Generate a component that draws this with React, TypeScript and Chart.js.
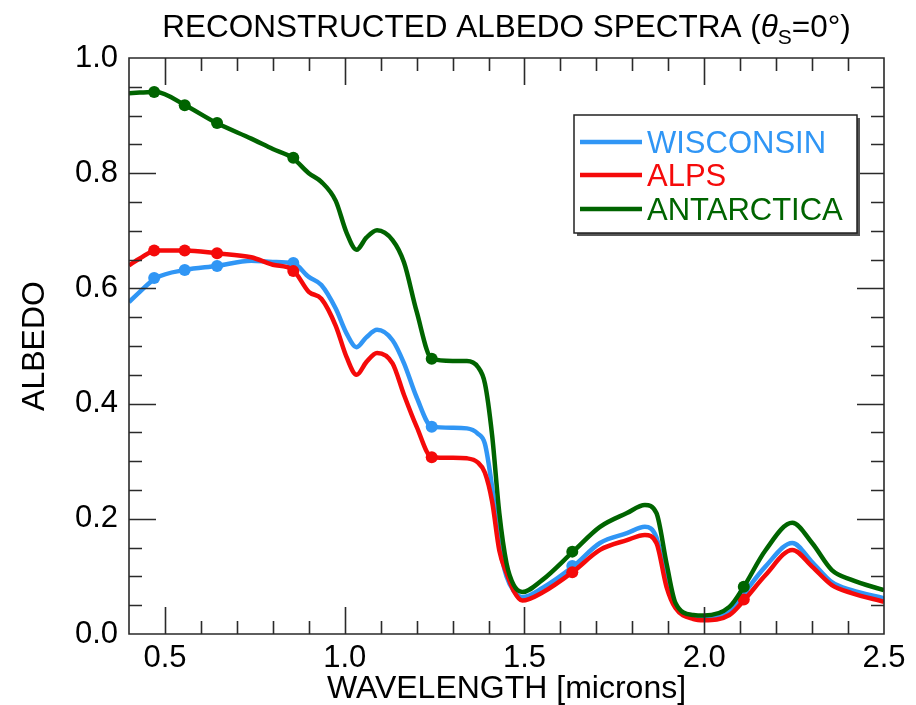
import React, { useEffect, useRef } from "react";
import { Chart, registerables } from "chart.js";

Chart.register(...registerables);

// Wavelength grid (microns) shared by the three reconstructed spectra
const wavelength = [
  0.4, 0.43, 0.475, 0.556, 0.644, 0.74, 0.8, 0.856, 0.9, 0.935, 0.975, 1.005,
  1.033, 1.06, 1.09, 1.133, 1.165, 1.2, 1.242, 1.3, 1.34, 1.37, 1.39, 1.41,
  1.43, 1.45, 1.47, 1.494, 1.55, 1.635, 1.71, 1.785, 1.835, 1.867, 1.895, 1.92,
  1.97, 2.0, 2.07, 2.11, 2.17, 2.245, 2.3, 2.355, 2.41, 2.5,
];

const wisconsin = [
  0.576, 0.594, 0.618, 0.632, 0.639, 0.648, 0.646, 0.644, 0.62, 0.606, 0.565, 0.522,
  0.498, 0.515, 0.528, 0.51, 0.47, 0.411, 0.36, 0.358, 0.357, 0.348, 0.33, 0.255,
  0.155, 0.1, 0.075, 0.064, 0.08, 0.117, 0.158, 0.175, 0.186, 0.168, 0.094, 0.05,
  0.03, 0.029, 0.038, 0.07, 0.117, 0.158, 0.125, 0.09, 0.076, 0.062,
];

const alps = [
  0.64, 0.652, 0.666, 0.666, 0.661, 0.654, 0.641, 0.632, 0.594, 0.582, 0.535, 0.481,
  0.45, 0.472, 0.488, 0.47, 0.415, 0.36, 0.307, 0.306, 0.305, 0.298, 0.28, 0.23,
  0.145, 0.106, 0.075, 0.058, 0.072, 0.108, 0.146, 0.163, 0.172, 0.158, 0.082, 0.045,
  0.026, 0.024, 0.033, 0.058, 0.102, 0.146, 0.117, 0.085, 0.071, 0.056,
];

const antarctica = [
  0.939, 0.94, 0.941, 0.918, 0.887, 0.86, 0.842, 0.826, 0.8, 0.785, 0.752, 0.697,
  0.667, 0.688, 0.701, 0.684, 0.645, 0.56, 0.478, 0.474, 0.474, 0.464, 0.435, 0.345,
  0.21, 0.123, 0.085, 0.073, 0.094, 0.143, 0.186, 0.21, 0.224, 0.21, 0.123, 0.054,
  0.033, 0.032, 0.047, 0.082, 0.145, 0.193, 0.158, 0.111, 0.094, 0.076,
];

// Band centres (markers)
const bandCenters = [0.47, 0.555, 0.645, 0.857, 1.242, 1.633, 2.11];
const wisconsinBands = [0.618, 0.632, 0.639, 0.644, 0.36, 0.118, 0.07];
const alpsBands = [0.666, 0.666, 0.661, 0.63, 0.307, 0.107, 0.06];
const antarcticaBands = [0.941, 0.918, 0.887, 0.827, 0.478, 0.143, 0.082];

const seriesNames = ["WISCONSIN", "ALPS", "ANTARCTICA"];
const seriesColors = ["rgb(48,150,245)", "rgb(245,10,10)", "rgb(0,100,0)"];

const xTickValues = [0.5, 1.0, 1.5, 2.0, 2.5];
const yTickValues = [0, 0.2, 0.4, 0.6, 0.8, 1.0];
const xRange = [0.4, 2.5];
const yRange = [0, 1];
const xMinorStep = 0.1;
const yMinorStep = 0.05;

const FONT = "'Liberation Sans', Arial, Helvetica, sans-serif";

const framePlugin = {
  id: "frameTicks",
  afterDatasetsDraw(chart: any) {
    const { ctx, chartArea, scales } = chart;
    const { left, right, top, bottom } = chartArea;
    const xs = scales.x;
    const ys = scales.y;
    ctx.save();
    ctx.strokeStyle = "#2a2a2a";
    ctx.lineWidth = 1.6;
    ctx.beginPath();
    ctx.rect(left, top, right - left, bottom - top);
    ctx.stroke();
    const majorLen = 27;
    const minorLen = 13;
    ctx.beginPath();
    const nx = Math.round((xRange[1] - xRange[0]) / xMinorStep);
    for (let i = 1; i < nx; i++) {
      const v = xRange[0] + i * xMinorStep;
      const isMajor = xTickValues.some((t) => Math.abs(t - v) < 1e-6);
      const len = isMajor ? majorLen : minorLen;
      const px = Math.round(xs.getPixelForValue(v)) + 0.5;
      ctx.moveTo(px, bottom);
      ctx.lineTo(px, bottom - len);
      ctx.moveTo(px, top);
      ctx.lineTo(px, top + len);
    }
    const ny = Math.round((yRange[1] - yRange[0]) / yMinorStep);
    for (let i = 1; i < ny; i++) {
      const v = yRange[0] + i * yMinorStep;
      const isMajor = yTickValues.some((t) => Math.abs(t - v) < 1e-6);
      const len = isMajor ? majorLen : minorLen;
      const py = Math.round(ys.getPixelForValue(v)) + 0.5;
      ctx.moveTo(left, py);
      ctx.lineTo(left + len, py);
      ctx.moveTo(right, py);
      ctx.lineTo(right - len, py);
    }
    ctx.stroke();
    ctx.restore();
  },
  afterDraw(chart: any) {
    const { ctx, chartArea } = chart;
    ctx.save();
    // Title
    const big = `31.5px ${FONT}`;
    const ital = `italic 31.5px ${FONT}`;
    const small = `21px ${FONT}`;
    const parts = [
      { t: "RECONSTRUCTED ALBEDO SPECTRA (", f: big, dy: 0 },
      { t: "\u03B8", f: ital, dy: 0 },
      { t: "S", f: small, dy: 7 },
      { t: "=0\u00B0)", f: big, dy: 0 },
    ];
    let total = 0;
    const widths = parts.map((p) => {
      ctx.font = p.f;
      const w = ctx.measureText(p.t).width;
      total += w;
      return w;
    });
    let x = (chartArea.left + chartArea.right) / 2 - total / 2;
    ctx.fillStyle = "#000";
    ctx.textBaseline = "alphabetic";
    ctx.textAlign = "left";
    parts.forEach((p, i) => {
      ctx.font = p.f;
      ctx.fillText(p.t, x, 37 + p.dy);
      x += widths[i];
    });

    // Legend
    const bx = 574, by = 115, bw = 283, bh = 118;
    ctx.fillStyle = "#555";
    ctx.fillRect(bx + 3, by + 3, bw, bh);
    ctx.fillStyle = "#fff";
    ctx.fillRect(bx, by, bw, bh);
    ctx.strokeStyle = "#222";
    ctx.lineWidth = 1.5;
    ctx.strokeRect(bx, by, bw, bh);
    const rowY = [142, 175, 209];
    ctx.font = `31px ${FONT}`;
    seriesNames.forEach((name, i) => {
      ctx.strokeStyle = seriesColors[i];
      ctx.lineWidth = 4.5;
      ctx.beginPath();
      ctx.moveTo(580, rowY[i]);
      ctx.lineTo(642, rowY[i]);
      ctx.stroke();
      ctx.fillStyle = seriesColors[i];
      ctx.fillText(name, 647, rowY[i] + 11);
    });
    ctx.restore();
  },
};

export default function App() {
  const ref = useRef<HTMLCanvasElement | null>(null);

  useEffect(() => {
    if (!ref.current) return;
    const toXY = (xs: number[], ys: number[]) => xs.map((x, i) => ({ x, y: ys[i] }));
    const lineSeries = [wisconsin, alps, antarctica];
    const bandSeries = [wisconsinBands, alpsBands, antarcticaBands];
    const orders = [2, 1, 0];
    const datasets: any[] = [];
    lineSeries.forEach((vals, i) => {
      datasets.push({
        label: seriesNames[i],
        data: toXY(wavelength, vals),
        showLine: true,
        borderColor: seriesColors[i],
        backgroundColor: seriesColors[i],
        borderWidth: 4.5,
        pointRadius: 0,
        cubicInterpolationMode: "monotone",
        fill: false,
        order: orders[i] + 0.5,
      });
    });
    bandSeries.forEach((vals, i) => {
      datasets.push({
        label: seriesNames[i] + " bands",
        data: toXY(bandCenters, vals),
        showLine: false,
        pointRadius: 6,
        pointBackgroundColor: seriesColors[i],
        pointBorderWidth: 0,
        borderColor: seriesColors[i],
        order: orders[i],
      });
    });

    const chart = new Chart(ref.current, {
      type: "scatter",
      data: { datasets },
      options: {
        animation: false,
        responsive: false,
        layout: { padding: { left: 0, right: 32, top: 58, bottom: 0 } },
        plugins: {
          legend: { display: false },
          title: { display: false },
          tooltip: { enabled: false },
        },
        scales: {
          x: {
            type: "linear",
            min: xRange[0],
            max: xRange[1],
            grid: { display: false, drawTicks: false },
            border: { display: false },
            afterBuildTicks: (s: any) => {
              s.ticks = xTickValues.map((v) => ({ value: v }));
            },
            afterFit: (s: any) => {
              s.height = 71;
            },
            ticks: {
              autoSkip: false,
              maxRotation: 0,
              padding: 6,
              color: "#000",
              font: { family: FONT, size: 31 },
              callback: (v: any) => Number(v).toFixed(1),
            },
            title: {
              display: true,
              text: "WAVELENGTH [microns]",
              color: "#000",
              font: { family: FONT, size: 32, lineHeight: 1 },
              padding: { top: 0, bottom: 0 },
            },
          },
          y: {
            type: "linear",
            min: yRange[0],
            max: yRange[1],
            grid: { display: false, drawTicks: false },
            border: { display: false },
            afterBuildTicks: (s: any) => {
              s.ticks = yTickValues.map((v) => ({ value: v }));
            },
            afterFit: (s: any) => {
              s.width = 129;
            },
            ticks: {
              autoSkip: false,
              padding: 11,
              color: "#000",
              font: { family: FONT, size: 31 },
              callback: (v: any) => Number(v).toFixed(1),
            },
            title: {
              display: true,
              text: "ALBEDO",
              color: "#000",
              font: { family: FONT, size: 32, lineHeight: 1 },
              padding: { top: 19, bottom: 0 },
            },
          },
        },
      },
      plugins: [framePlugin],
    });
    return () => chart.destroy();
  }, []);

  return (
    <div style={{ position: "absolute", left: 0, top: 0, width: 916, height: 705, background: "#fff" }}>
      <canvas ref={ref} width={916} height={705} />
    </div>
  );
}
